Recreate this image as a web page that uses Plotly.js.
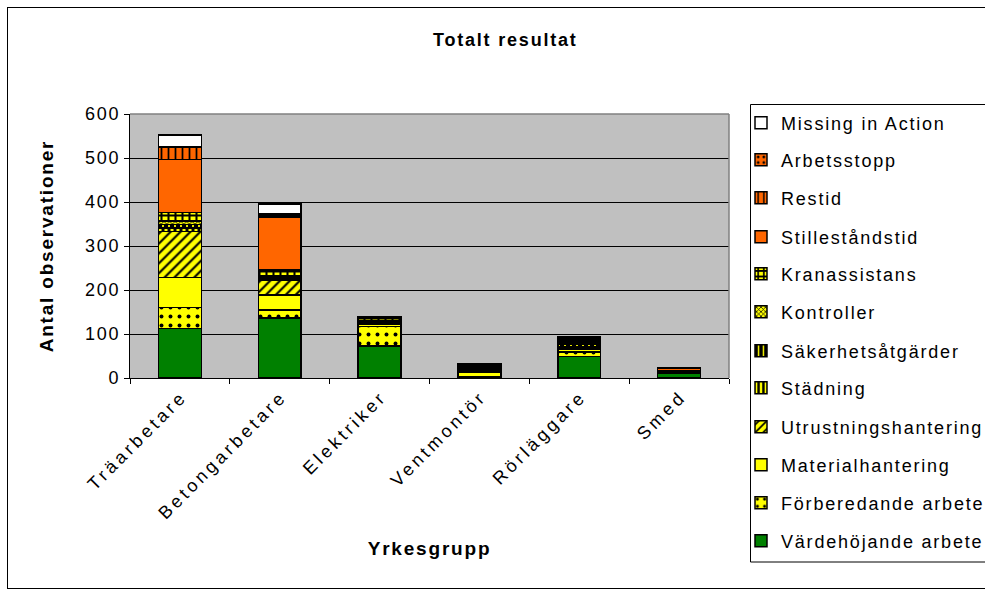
<!DOCTYPE html>
<html>
<head>
<meta charset="utf-8">
<script src="https://cdn.plot.ly/plotly-3.0.1.min.js"></script>
<style>
html,body{margin:0;padding:0;background:#fff;}
svg text{letter-spacing:1.8px;}
.xtick text{letter-spacing:3.5px;}
.legend text{letter-spacing:1.6px;}
#wrap{position:relative;width:985px;height:589px;overflow:hidden;}
#chart{position:absolute;left:0;top:0;width:985px;height:589px;}
#frame{position:absolute;left:7px;top:7px;width:990px;height:580px;border:1px solid #000;pointer-events:none;}
</style>
</head>
<body>
<div id="wrap"><div id="chart"></div><div id="frame"></div></div>
<script>
const categories = ["Träarbetare","Betongarbetare","Elektriker","Ventmontör","Rörläggare","Smed"];

const vardehojande   = [113, 136, 73, 3, 49, 10];
const forberedande   = [47, 19, 44, 11, 10, 1];
const material       = [68, 34, 5, 2, 7, 1];
const utrustning     = [105, 34, 3, 2, 3, 1];
const stadning       = [8, 3, 2, 3, 3, 1];
const sakerhet       = [8, 3, 2, 3, 4, 1];
const kontroller     = [8, 3, 2, 2, 3, 1];
const kranassistans  = [19, 13, 4, 2, 4, 1];
const stillestand    = [121, 120, 3, 3, 3, 6];
const restid         = [28, 3, 1, 1, 4, 0];
const arbetsstopp    = [0, 5, 0, 0, 1, 0];
const missing        = [27, 23, 0, 0, 3, 0];

const seriesNames = ["Värdehöjande arbete","Förberedande arbete","Materialhantering","Utrustningshantering",
  "Städning","Säkerhetsåtgärder","Kontroller","Kranassistans","Stilleståndstid","Restid","Arbetsstopp","Missing in Action"];
const seriesValues = [vardehojande, forberedande, material, utrustning, stadning, sakerhet, kontroller,
  kranassistans, stillestand, restid, arbetsstopp, missing];

const GREEN="#008000", YEL="#FFFF00", ORA="#FF6600", BLK="#000000", WHT="#FFFFFF";
const styles = [
  {color:GREEN},
  {color:YEL, pattern:{shape:".", bgcolor:YEL, fgcolor:BLK, size:9, solidity:0.15}},
  {color:YEL},
  {color:YEL, pattern:{shape:"/", bgcolor:YEL, fgcolor:BLK, size:7, solidity:0.3}},
  {color:YEL, pattern:{shape:"|", bgcolor:YEL, fgcolor:BLK, size:6, solidity:0.5}},
  {color:BLK, pattern:{shape:"|", bgcolor:BLK, fgcolor:YEL, size:6, solidity:0.3}},
  {color:YEL, pattern:{shape:"x", bgcolor:YEL, fgcolor:BLK, size:4, solidity:0.4}},
  {color:YEL, pattern:{shape:"+", bgcolor:YEL, fgcolor:BLK, size:7, solidity:0.5}},
  {color:ORA},
  {color:ORA, pattern:{shape:"|", bgcolor:ORA, fgcolor:BLK, size:7, solidity:0.25}},
  {color:ORA, pattern:{shape:".", bgcolor:ORA, fgcolor:BLK, size:7, solidity:0.2}},
  {color:WHT}
];

// Legend rows from bottom (Värdehöjande) to top (Missing), centre in px
const M = {l:130, r:256, t:114, b:211, autoexpand:false};
const plotH = 589 - M.t - M.b, plotW = 985 - M.l - M.r;
const rowCentersPx = [541, 503, 465, 427, 388, 351, 312, 274, 237, 198, 160, 123];
const toPaperY = px => (589 - M.b - px) / plotH;
const toPaperX = px => (px - M.l) / plotW;

const traces = seriesNames.map((n,i)=>{
  const m = {color:styles[i].color, line:{color:"#000", width:1.5}};
  if (styles[i].pattern) m.pattern = styles[i].pattern;
  return {type:"bar", name:n, x:categories, y:seriesValues[i], marker:m,
    legend:"legend"+(i+2), hoverinfo:"name+y"};
});

const font = "Arial, 'Liberation Sans', sans-serif";
const layout = {
  width:985, height:589,
  margin:M, showlegend:true,
  paper_bgcolor:"#fff", plot_bgcolor:"#C0C0C0",
  barmode:"stack", bargap:0.57,
  font:{family:font, size:18, color:"#000"},
  title:{text:"<b>Totalt resultat</b>", font:{size:18}, x:0.513, xref:"container", y:0.932, yref:"container", xanchor:"center", yanchor:"middle"},
  xaxis:{type:"category", tickangle:-45, showline:true, linecolor:"#000", linewidth:1, ticks:"outside", tickson:"boundaries",
    ticklen:5, tickcolor:"#000", showgrid:false, ticklabelshift:2,
    title:{text:"<b>Yrkesgrupp</b>", font:{size:19}, standoff:19}},
  yaxis:{range:[0,600], dtick:100, showline:true, linecolor:"#000", linewidth:1, ticks:"outside", ticklen:5, tickcolor:"#000",
    gridcolor:"#000", gridwidth:1, zeroline:false,
    title:{text:"<b>Antal observationer</b>", font:{size:19}, standoff:26}},
  shapes:[
    {type:"line", xref:"paper", yref:"paper", x0:0, x1:1, y0:1, y1:1, line:{color:"#808080", width:1.5}},
    {type:"line", xref:"paper", yref:"paper", x0:1, x1:1, y0:0, y1:1, line:{color:"#808080", width:1.5}},
    {type:"rect", xref:"paper", yref:"paper", x0:toPaperX(750.5), x1:toPaperX(1000), y0:toPaperY(562), y1:toPaperY(104.5),
      line:{color:"#000", width:1}, fillcolor:"#fff", layer:"above"}
  ]
};
seriesNames.forEach((n,i)=>{
  layout["legend"+(i+2)] = {x:toPaperX(741), y:toPaperY(rowCentersPx[i]), xanchor:"left", yanchor:"middle",
    bgcolor:"rgba(0,0,0,0)", borderwidth:0, font:{size:18}};
});

Plotly.newPlot("chart", traces, layout, {displayModeBar:false, staticPlot:true});
</script>
</body>
</html>
